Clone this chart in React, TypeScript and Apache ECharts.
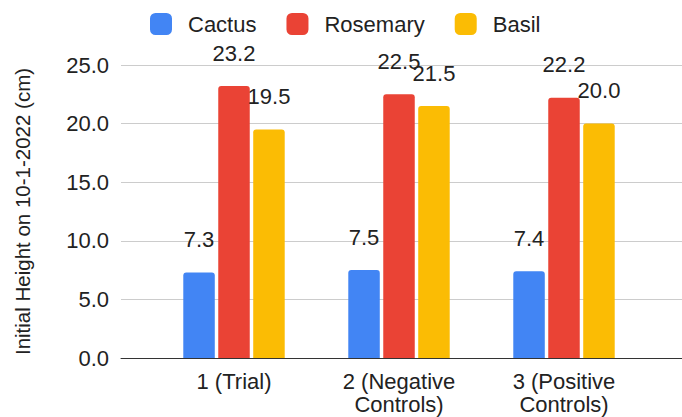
import React, { useEffect, useRef } from "react";
import * as echarts from "echarts";

const categories = ["1 (Trial)", "2 (Negative\nControls)", "3 (Positive\nControls)"];
const seriesNames = ["Cactus", "Rosemary", "Basil"];
const cactus = [7.3, 7.5, 7.4];
const rosemary = [23.2, 22.5, 22.2];
const basil = [19.5, 21.5, 20.0];
const colors = ["#4285F4", "#EA4335", "#FBBC04"];
const yMin = 0;
const yMax = 25;
const yInterval = 5;
const yTitle = "Initial Height on 10-1-2022 (cm)";

const FONT = "'Liberation Sans', Arial, sans-serif";

export default function App() {
  const ref = useRef<HTMLDivElement>(null);
  useEffect(() => {
    if (!ref.current) return;
    const chart = echarts.init(ref.current, undefined, { renderer: "svg" });
    const values = [cactus, rosemary, basil];
    const option: any = {
      animation: false,
      textStyle: { fontFamily: FONT },
      color: colors,
      legend: {
        left: 150,
        top: 13,
        padding: 0,
        itemWidth: 22,
        itemHeight: 22,
        itemGap: 30,
        icon: "roundRect",
        data: seriesNames,
        textStyle: {
          fontFamily: FONT,
          fontSize: 22,
          color: "#222",
          padding: [0, 0, 0, 11],
        },
      },
      grid: [
        { left: 121, right: 0, top: 65, bottom: 59 },
        { left: 151.5, width: 495, top: 65, bottom: 59 },
      ],
      xAxis: [
        {
          gridIndex: 0,
          type: "value",
          min: 0,
          max: 1,
          axisLine: { show: true, onZero: false, lineStyle: { color: "#333", width: 1 } },
          axisTick: { show: false },
          axisLabel: { show: false },
          splitLine: { show: false },
        },
        {
          gridIndex: 1,
          type: "category",
          data: categories,
          axisLine: { show: false },
          axisTick: { show: false },
          axisLabel: {
            fontFamily: FONT,
            fontSize: 22,
            color: "#222",
            margin: 12,
            lineHeight: 23,
          },
        },
      ],
      yAxis: [
        {
          gridIndex: 0,
          type: "value",
          min: yMin,
          max: yMax,
          interval: yInterval,
          name: yTitle,
          nameLocation: "middle",
          nameRotate: 90,
          nameGap: 88,
          nameTextStyle: { fontFamily: FONT, fontSize: 20.5, color: "#222" },
          axisLine: { show: false },
          axisTick: { show: false },
          axisLabel: {
            fontFamily: FONT,
            fontSize: 22,
            color: "#222",
            margin: 12,
            formatter: (v: number) => v.toFixed(1),
          },
          splitLine: { show: true, lineStyle: { color: "#cccccc", width: 1 } },
        },
        {
          gridIndex: 1,
          type: "value",
          min: yMin,
          max: yMax,
          interval: yInterval,
          show: false,
          splitLine: { show: false },
        },
      ],
      series: seriesNames.map((name, i) => ({
        name,
        type: "bar",
        xAxisIndex: 1,
        yAxisIndex: 1,
        data: values[i],
        barWidth: 31.5,
        barGap: "11%",
        itemStyle: { color: colors[i], borderRadius: [3, 3, 0, 0] },
        label: {
          show: true,
          position: "top",
          distance: 22,
          fontFamily: FONT,
          fontSize: 22,
          color: "#222",
          formatter: (p: any) => Number(p.value).toFixed(1),
        },
      })),
    };
    chart.setOption(option);
    return () => chart.dispose();
  }, []);
  return (
    <div
      ref={ref}
      style={{ position: "absolute", left: 0, top: 0, width: 682, height: 417, background: "#fff" }}
    />
  );
}
